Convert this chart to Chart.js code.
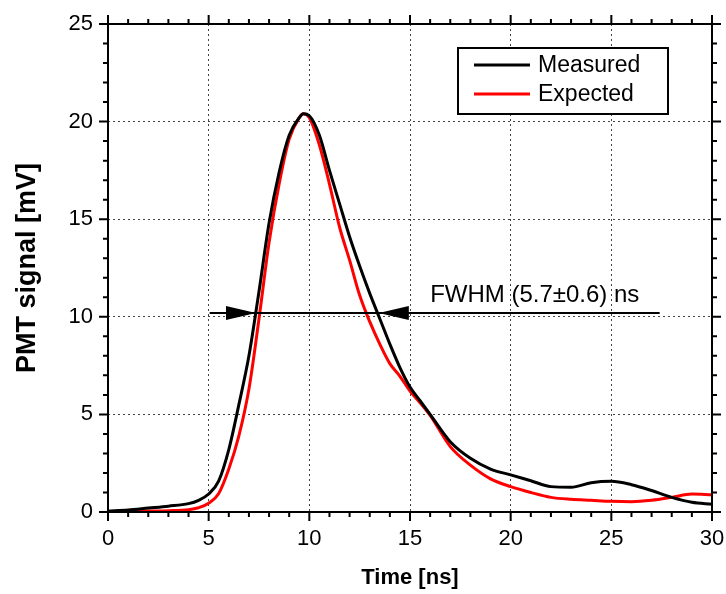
<!DOCTYPE html>
<html>
<head>
<meta charset="utf-8">
<script src="https://cdn.jsdelivr.net/npm/chart.js@4/dist/chart.umd.min.js"></script>
<style>
    html, body { margin: 0; padding: 0; background: #fff; }
    #wrap { width: 726px; height: 594px; }
</style>
</head>
<body>
<div id="wrap"><canvas id="pmt-chart" width="726" height="594"></canvas></div>
<script>
// values
const timeNs = [0, 1, 2, 3, 4, 4.5, 5, 5.5, 6, 6.5, 7, 7.5, 8, 8.5, 9, 9.5, 9.7, 10, 10.5, 11, 11.5, 12, 12.5, 13, 13.5, 14, 14.5, 15, 15.5, 16, 17, 18, 19, 20, 21, 22, 23, 24, 25, 26, 27, 28, 29, 30];
const measured = [0.05, 0.1, 0.2, 0.3, 0.43, 0.6, 0.92, 1.6, 3.2, 5.5, 8.0, 11.3, 14.8, 17.4, 19.3, 20.2, 20.4, 20.3, 19.3, 17.5, 15.8, 14.1, 12.6, 11.2, 9.9, 8.6, 7.4, 6.4, 5.7, 5.0, 3.6, 2.75, 2.2, 1.9, 1.6, 1.3, 1.27, 1.5, 1.57, 1.4, 1.1, 0.75, 0.5, 0.4];
const expected = [0.02, 0.03, 0.05, 0.07, 0.12, 0.22, 0.45, 0.95, 2.2, 3.9, 6.3, 9.9, 13.8, 16.8, 19.1, 20.2, 20.4, 20.2, 18.8, 16.8, 14.6, 12.9, 11.1, 9.75, 8.6, 7.6, 6.95, 6.2, 5.6, 4.95, 3.35, 2.4, 1.7, 1.3, 1.0, 0.75, 0.65, 0.6, 0.55, 0.53, 0.6, 0.75, 0.92, 0.88];
const seriesNames = ['Measured', 'Expected'];
const seriesColors = ['#000000', '#ff0000'];

// FWHM marker: level, arrow tips and line extent in data units
const fwhmLevel = 10.2;
const fwhmTips = [7.35, 13.45];
const fwhmLineFrom = 5.05;
const fwhmLineTo = 27.4;
const fwhmLabel = 'FWHM (5.7\u00b10.6) ns';
const fwhmLabelAt = 16.0;

const FONT = "'Liberation Sans', Arial, sans-serif";
Chart.defaults.font.family = FONT;
Chart.defaults.color = '#000';

function toPoints(ys) {
    return timeNs.map((t, i) => ({ x: t, y: ys[i] }));
}

// frame, mirrored minor/major ticks, FWHM arrows and the boxed legend
const framePlugin = {
    id: 'frame',
    afterDatasetsDraw(chart) {
        const ctx = chart.ctx;
        const a = chart.chartArea;
        const xs = chart.scales.x;
        const ys = chart.scales.y;
        ctx.save();

        // FWHM line + arrows
        const ly = ys.getPixelForValue(fwhmLevel);
        ctx.strokeStyle = '#000';
        ctx.lineWidth = 2;
        ctx.beginPath();
        ctx.moveTo(xs.getPixelForValue(fwhmLineFrom), ly);
        ctx.lineTo(xs.getPixelForValue(fwhmLineTo), ly);
        ctx.stroke();
        ctx.fillStyle = '#000';
        const lt = xs.getPixelForValue(fwhmTips[0]);
        const rt = xs.getPixelForValue(fwhmTips[1]);
        ctx.beginPath();
        ctx.moveTo(lt, ly);
        ctx.lineTo(lt - 30, ly - 7);
        ctx.lineTo(lt - 30, ly + 7);
        ctx.closePath();
        ctx.fill();
        ctx.beginPath();
        ctx.moveTo(rt, ly);
        ctx.lineTo(rt + 30, ly - 7);
        ctx.lineTo(rt + 30, ly + 7);
        ctx.closePath();
        ctx.fill();
        ctx.font = '24px ' + FONT;
        ctx.textAlign = 'left';
        ctx.textBaseline = 'alphabetic';
        ctx.fillText(fwhmLabel, xs.getPixelForValue(fwhmLabelAt), ly - 11);

        // frame
        ctx.lineWidth = 2;
        ctx.strokeRect(a.left, a.top, a.right - a.left, a.bottom - a.top);

        // ticks, all pointing outwards
        ctx.beginPath();
        for (let v = xs.min; v <= xs.max; v += 1) {
            const px = xs.getPixelForValue(v);
            const len = v % 5 === 0 ? 9 : 5;
            ctx.moveTo(px, a.bottom);
            ctx.lineTo(px, a.bottom + len);
            ctx.moveTo(px, a.top);
            ctx.lineTo(px, a.top - len);
        }
        for (let v = ys.min; v <= ys.max; v += 1) {
            const py = ys.getPixelForValue(v);
            const len = v % 5 === 0 ? 9 : 5;
            ctx.moveTo(a.left, py);
            ctx.lineTo(a.left - len, py);
            ctx.moveTo(a.right, py);
            ctx.lineTo(a.right + len, py);
        }
        ctx.stroke();

        // legend box
        const bx = 458, by = 48, bw = 210, bh = 66;
        ctx.fillStyle = '#fff';
        ctx.fillRect(bx, by, bw, bh);
        ctx.lineWidth = 2;
        ctx.strokeStyle = '#000';
        ctx.strokeRect(bx, by, bw, bh);
        ctx.font = '23px ' + FONT;
        ctx.textBaseline = 'middle';
        chart.data.datasets.forEach((ds, i) => {
            const ry = by + 17 + i * 29;
            ctx.strokeStyle = ds.borderColor;
            ctx.lineWidth = 3;
            ctx.beginPath();
            ctx.moveTo(bx + 16, ry);
            ctx.lineTo(bx + 72, ry);
            ctx.stroke();
            ctx.fillStyle = '#000';
            ctx.fillText(ds.label, bx + 80, ry + 1);
        });
        ctx.restore();
    }
};

document.addEventListener('DOMContentLoaded', function () {
    const canvas = document.getElementById('pmt-chart');

    new Chart(canvas, {
        type: 'line',
        data: {
            datasets: [{
                label: seriesNames[0],
                data: toPoints(measured),
                borderColor: seriesColors[0],
                borderWidth: 3,
                pointRadius: 0,
                cubicInterpolationMode: 'monotone',
                order: 1
            }, {
                label: seriesNames[1],
                data: toPoints(expected),
                borderColor: seriesColors[1],
                borderWidth: 3,
                pointRadius: 0,
                cubicInterpolationMode: 'monotone',
                order: 2
            }]
        },
        options: {
            responsive: false,
            animation: false,
            layout: { padding: { top: 24, right: 14, left: 0, bottom: 0 } },
            plugins: {
                legend: { display: false },
                tooltip: { enabled: false }
            },
            scales: {
                x: {
                    type: 'linear',
                    min: 0,
                    max: 30,
                    afterFit: s => { s.height = 82; s.paddingLeft = 0; s.paddingRight = 0; },
                    ticks: { stepSize: 5, padding: 14, font: { size: 22 } },
                    grid: { color: '#444', lineWidth: 1, drawTicks: false },
                    border: { display: false, dash: [2, 3] },
                    title: {
                        display: true,
                        text: 'Time [ns]',
                        font: { size: 22, weight: 'bold' },
                        padding: { top: 0, bottom: 3 }
                    }
                },
                y: {
                    min: 0,
                    max: 25,
                    afterFit: s => { s.width = 108; s.paddingTop = 0; s.paddingBottom = 0; },
                    ticks: { stepSize: 5, padding: 15, font: { size: 22 } },
                    grid: { color: '#444', lineWidth: 1, drawTicks: false },
                    border: { display: false, dash: [2, 3] },
                    title: {
                        display: true,
                        text: 'PMT signal [mV]',
                        font: { size: 27, weight: 'bold' },
                        padding: { top: 11, bottom: 0 }
                    }
                }
            }
        },
        plugins: [framePlugin]
    });
});
</script>
</body>
</html>
